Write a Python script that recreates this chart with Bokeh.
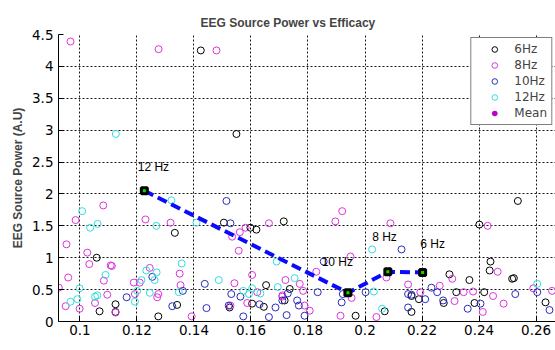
from bokeh.plotting import figure
from bokeh.models import FixedTicker, Legend, LegendItem, Label, ColumnDataSource, Range1d
from bokeh.core.properties import value
from bokeh.embed import file_html
from bokeh.resources import INLINE

# ---------------- data ----------------
x_ticks = [0.10, 0.12, 0.14, 0.16, 0.18, 0.20, 0.22, 0.24, 0.26]
x_tick_labels = ["0.1", "0.12", "0.14", "0.16", "0.18", "0.2", "0.22", "0.24", "0.26"]
y_ticks = [0, 0.5, 1, 1.5, 2, 2.5, 3, 3.5, 4, 4.5]
y_tick_labels = ["0", "0.5", "1", "1.5", "2", "2.5", "3", "3.5", "4", "4.5"]

hz6_x = [0.1424, 0.1549, 0.1333, 0.1059, 0.1069, 0.1125, 0.1125, 0.1275, 0.1341, 0.1505,
         0.1598, 0.1619, 0.1715, 0.1653, 0.1736, 0.1604, 0.1645, 0.1718, 0.1525, 0.1967,
         0.2069, 0.2163, 0.2163, 0.2189, 0.2296, 0.2320, 0.2366, 0.2384, 0.2418, 0.2440,
         0.2437, 0.2516, 0.2522, 0.2536, 0.2401, 0.2633, 0.2276]
hz6_y = [4.25, 2.94, 1.39, 1.00, 0.16, 0.27, 0.15, 0.08, 0.26, 1.55,
         1.47, 1.44, 1.57, 0.57, 0.51, 0.28, 0.23, 0.33, 0.22, 0.09,
         0.16, 0.40, 0.15, 0.35, 0.74, 0.46, 0.65, 0.29, 0.46, 0.94,
         0.80, 0.67, 0.68, 1.89, 1.52, 0.30, 0.29]

hz8_x = [0.0967, 0.1276, 0.1479, 0.1082, 0.0985, 0.1230, 0.1318, 0.0953, 0.1026, 0.1033,
         0.1108, 0.1112, 0.0959, 0.1084, 0.0926, 0.1096, 0.0999, 0.0950, 0.1053, 0.1125,
         0.1189, 0.1210, 0.1245, 0.1193, 0.1275, 0.1271, 0.1350, 0.1353, 0.1581, 0.1663,
         0.1534, 0.1561, 0.1557, 0.1604, 0.1542, 0.1721, 0.1771, 0.1783, 0.1622, 0.1587,
         0.1710, 0.1788, 0.1528, 0.1392, 0.1920, 0.1896, 0.2089, 0.1949, 0.1829, 0.1953,
         0.1914, 0.2040, 0.2075, 0.2151, 0.2194, 0.1806, 0.1710, 0.2262, 0.2306, 0.2346,
         0.2379, 0.2413, 0.2449, 0.2465, 0.2486, 0.2314, 0.2430, 0.2590, 0.2656]
hz8_y = [4.39, 4.27, 4.25, 1.82, 1.59, 1.60, 1.55, 1.21, 1.08, 0.90,
         0.88, 0.87, 0.69, 0.64, 0.53, 0.42, 0.20, 0.24, 0.29, 0.14,
         0.61, 0.61, 0.84, 0.43, 0.43, 0.38, 0.75, 0.57, 1.47, 1.54,
         1.33, 1.40, 1.11, 0.73, 0.60, 0.65, 0.59, 0.48, 0.46, 0.29,
         0.39, 0.25, 0.25, 0.08, 1.73, 1.57, 1.54, 1.02, 0.78, 0.37,
         0.09, 0.07, 0.69, 0.58, 0.46, 0.17, 0.41, 0.56, 0.67, 0.46,
         0.47, 0.15, 0.40, 0.78, 0.28, 0.32, 1.50, 0.52, 0.48]

hz10_x = [0.1514, 0.1528, 0.1254, 0.1164, 0.1324, 0.1361, 0.1438, 0.1531, 0.1563, 0.1630,
          0.1686, 0.1710, 0.1729, 0.1762, 0.1768, 0.1522, 0.1444, 0.1573, 0.1663, 0.1725,
          0.1788, 0.2128, 0.1855, 0.1834, 0.1922, 0.1918, 0.2002, 0.2151, 0.2163, 0.2151,
          0.2211, 0.2233, 0.2253, 0.2274, 0.2360, 0.2405, 0.2527, 0.2604, 0.2647]
hz10_y = [1.89, 1.54, 0.70, 0.38, 0.24, 0.48, 0.59, 0.43, 0.39, 0.27,
          0.22, 0.33, 0.44, 0.33, 0.25, 0.25, 0.21, 0.08, 0.07, 0.10,
          0.09, 1.13, 0.94, 0.46, 0.43, 0.30, 0.46, 0.43, 0.42, 0.22,
          0.35, 0.53, 0.46, 0.33, 0.20, 0.28, 0.43, 0.46, 0.18]

hz12_x = [0.1126, 0.1321, 0.1008, 0.1036, 0.1062, 0.1268, 0.1409, 0.1357, 0.1090, 0.0999,
          0.0967, 0.0991, 0.1053, 0.1061, 0.1216, 0.1233, 0.1269, 0.1262, 0.1201, 0.1193,
          0.1245, 0.1347, 0.1690, 0.1487, 0.1694, 0.1753, 0.1573, 0.1604, 0.1633, 0.1593,
          0.2025, 0.2031, 0.2060, 0.2604]
hz12_y = [2.94, 1.90, 1.73, 1.47, 1.53, 1.50, 1.55, 0.91, 0.73, 0.52,
          0.31, 0.35, 0.39, 0.41, 0.65, 0.80, 0.77, 0.65, 0.48, 0.31,
          0.45, 0.46, 0.94, 0.65, 0.54, 0.68, 0.48, 0.52, 0.44, 0.43,
          1.13, 0.47, 0.20, 0.59]

mean_labels = ["12 Hz", "10 Hz", "8 Hz", "6 Hz"]
mean_x = [0.1226, 0.1940, 0.2080, 0.2202]
mean_y = [2.05, 0.45, 0.78, 0.77]
mean_label_x = [0.1203, 0.1848, 0.2025, 0.2194]
mean_label_y = [2.42, 0.93, 1.32, 1.21]

series_names = ["6Hz", "8Hz", "10Hz", "12Hz"]
series_colors = ["#000000", "#dd33dd", "#2a2ac0", "#33dddd"]

# ---------------- figure ----------------
X0, X1 = 0.0925, 0.2668
p = figure(width=555, height=350, x_range=Range1d(X0, X1), y_range=Range1d(0, 4.5),
           output_backend="svg", toolbar_location=None,
           min_border_left=58, min_border_right=0, min_border_top=34, min_border_bottom=29)
p.background_fill_color = "white"
p.border_fill_color = "white"
p.outline_line_color = None

p.title.text = "EEG Source Power vs Efficacy"
p.title.text_font = "Liberation Sans"
p.title.text_font_style = "bold"
p.title.text_font_size = "12px"
p.title.align = "left"
p.title.offset = 142
p.title.standoff = 10

for ax in (p.xaxis[0], p.yaxis[0]):
    ax.axis_line_color = "black"
    ax.axis_line_width = 1
    ax.major_tick_in = 5
    ax.major_tick_out = 0
    ax.minor_tick_line_color = None
    ax.major_tick_line_color = "black"
    ax.major_label_text_font = "DejaVu Sans"
    ax.major_label_text_font_size = "13.5px"
    ax.major_label_text_color = "black"

p.xaxis.ticker = FixedTicker(ticks=x_ticks)
p.xaxis.major_label_overrides = {t: l for t, l in zip(x_ticks, x_tick_labels)}
p.xaxis.major_label_standoff = 3
p.yaxis.ticker = FixedTicker(ticks=y_ticks)
p.yaxis.major_label_overrides = {t: l for t, l in zip(y_ticks, y_tick_labels)}
p.yaxis.major_label_standoff = 5

p.yaxis.axis_label = "EEG Source Power (A.U)"
p.yaxis.axis_label_text_font = "Liberation Sans"
p.yaxis.axis_label_text_font_style = "bold"
p.yaxis.axis_label_text_font_size = "12px"
p.yaxis.axis_label_standoff = 4

p.add_layout(Label(x=(X0 + X1) / 2, y=-21, y_units="screen", text="Efficacy",
                   text_font="Liberation Sans", text_font_style="bold",
                   text_font_size="12px", text_align="center", text_baseline="middle"))

for g in (p.xgrid[0], p.ygrid[0]):
    g.grid_line_color = "black"
    g.grid_line_alpha = 0.9
    g.grid_line_dash = "2 2"
    g.grid_line_width = 1
p.xgrid.ticker = FixedTicker(ticks=x_ticks)
p.ygrid.ticker = FixedTicker(ticks=y_ticks)

items = []
for name, color, xs, ys in zip(series_names, series_colors,
                                [hz6_x, hz8_x, hz10_x, hz12_x], [hz6_y, hz8_y, hz10_y, hz12_y]):
    r = p.scatter(xs, ys, marker="circle", size=7, fill_color=None, line_color=color, line_width=1)
    items.append(LegendItem(label=name, renderers=[r]))

mean_src = ColumnDataSource(dict(x=mean_x, y=mean_y))
p.line("x", "y", source=mean_src, line_color="#0a0aff", line_width=4, line_dash="10 5")
p.scatter("x", "y", source=mean_src, marker="square", size=6, fill_color="#00e000",
          line_color="black", line_width=3)
lab_src = ColumnDataSource(dict(x=mean_label_x, y=mean_label_y, t=mean_labels))
p.text("x", "y", text="t", source=lab_src, text_font=value("Liberation Sans"),
       text_font_size="12px", text_color="black", text_align="left", text_baseline="middle")

# legend-only glyph for "Mean" (size 0 on the plot, drawn only in the legend)
mean_leg = p.scatter("x", "y", source=mean_src, marker="circle", size=0,
                     fill_color="#c000c0", line_color=None)
items.append(LegendItem(label="Mean", renderers=[mean_leg]))

legend = Legend(items=items, location="top_right", margin=3, padding=4, spacing=2,
                label_height=14, glyph_height=14, glyph_width=38, label_standoff=1,
                label_text_font="DejaVu Sans", label_text_font_size="12px",
                border_line_color="black", border_line_width=1,
                background_fill_color="white", background_fill_alpha=1)
p.add_layout(legend)

open("out.html", "w").write(file_html(p, INLINE))
